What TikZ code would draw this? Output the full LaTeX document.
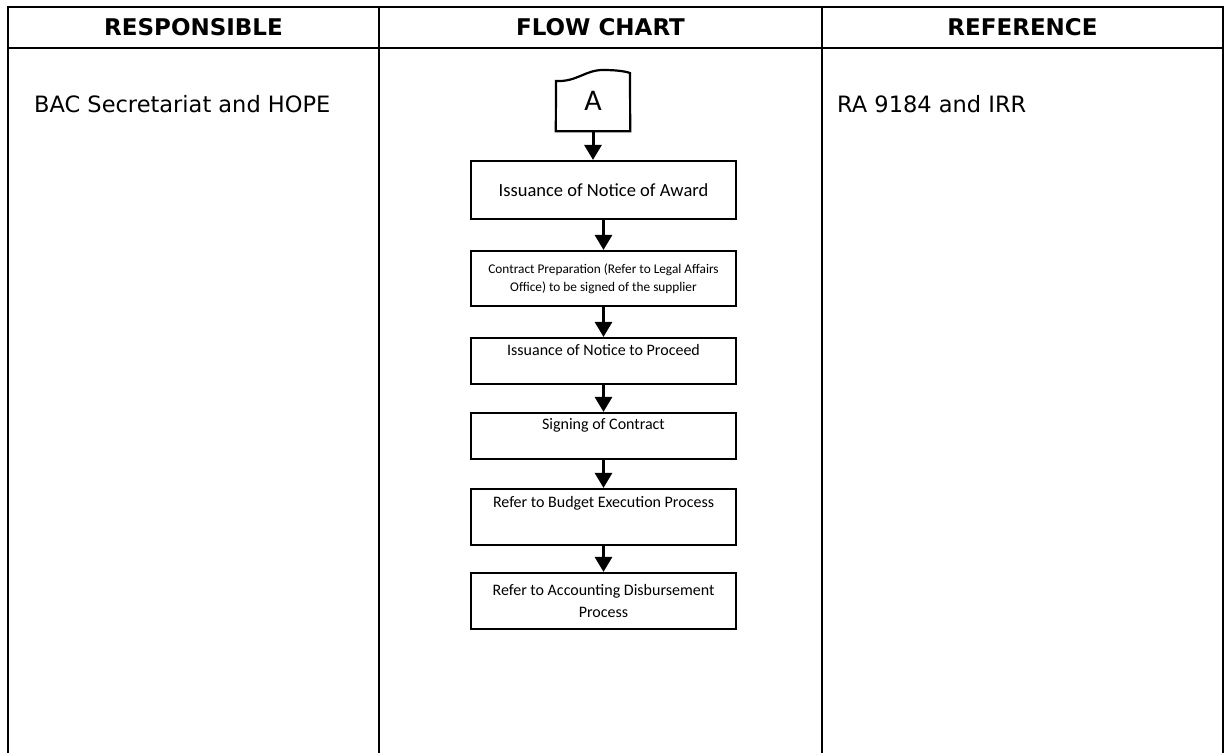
\documentclass[tikz,border=0pt]{standalone}
\usepackage{fontspec}
\setmainfont{DejaVu Sans}
\newfontfamily\carlito{Carlito}
\usetikzlibrary{arrows.meta}

\begin{document}
\begin{tikzpicture}[x=1pt, y=-1pt,
    block/.style={draw, line width=2.2pt, minimum width=265pt, inner sep=0pt, align=center, font=\carlito\fontsize{16}{22}\selectfont},
    head/.style={font=\bfseries\fontsize{23}{28}\selectfont},
    cell/.style={anchor=west, inner sep=0pt, font=\fontsize{22.5}{27}\selectfont},
    rule/.style={line width=2.2pt},
    flow/.style={line width=3pt, -{Triangle[length=15pt,width=17pt]}},]
    \useasboundingbox (0,0) rectangle (1225,753);
    % table frame
    \draw[rule] (8,753) -- (8,7) -- (1223,7) -- (1223,753);
    \draw[rule] (8,48) -- (1223,48);
    \draw[rule] (379,7) -- (379,753);
    \draw[rule] (822,7) -- (822,753);
    \node[head] (resp) at (193.5,27.5) {RESPONSIBLE};
    \node[head] (chart) at (600.5,27.5) {FLOW CHART};
    \node[head] (refs) at (1022.5,27.5) {REFERENCE};
    \node[cell] (who) at (34,104) {BAC Secretariat and HOPE};
    \node[cell] (law) at (837,104) {RA 9184 and IRR};
    % off-page connector
    \node[minimum width=74pt, minimum height=60pt, inner sep=0pt, font=\carlito\fontsize{30}{31}\selectfont] (conn) at (593,101) {A};
    \draw[line width=2.2pt] (conn.south west) -- (556,81) .. controls (577,82) and (585,70) .. (603,70)
        .. controls (615,70) and (624,71) .. (630,73) -- (conn.south east) -- cycle;
    % steps
    \node[block, minimum height=58pt, font=\carlito\fontsize{18.5}{22}\selectfont] (award) at (603.5,190) {Issuance of Notice of Award};
    \node[block, below of=award, node distance=88.5pt, minimum height=55pt, font=\carlito\fontsize{13.3}{18.3}\selectfont] (contract) {Contract Preparation (Refer to Legal Affairs\\Office) to be signed of the supplier};
    \node[block, below of=contract, node distance=82.5pt, text height=17pt, text depth=29pt] (proceed) {Issuance of Notice to Proceed};
    \node[block, below of=proceed, node distance=75pt, text height=16pt, text depth=30pt] (signing) {Signing of Contract};
    \node[block, below of=signing, node distance=81pt, text height=18pt, text depth=38pt] (budget) {Refer to Budget Execution Process};
    \node[block, below of=budget, node distance=84pt, minimum height=56pt] (disburse) {Refer to Accounting Disbursement\\Process};
    \draw[flow] (conn.south) -- (conn.south |- award.north);
    \draw[flow] (award.south) -- (contract.north);
    \draw[flow] (contract.south) -- (proceed.north);
    \draw[flow] (proceed.south) -- (signing.north);
    \draw[flow] (signing.south) -- (budget.north);
    \draw[flow] (budget.south) -- (disburse.north);
\end{tikzpicture}
\end{document}
